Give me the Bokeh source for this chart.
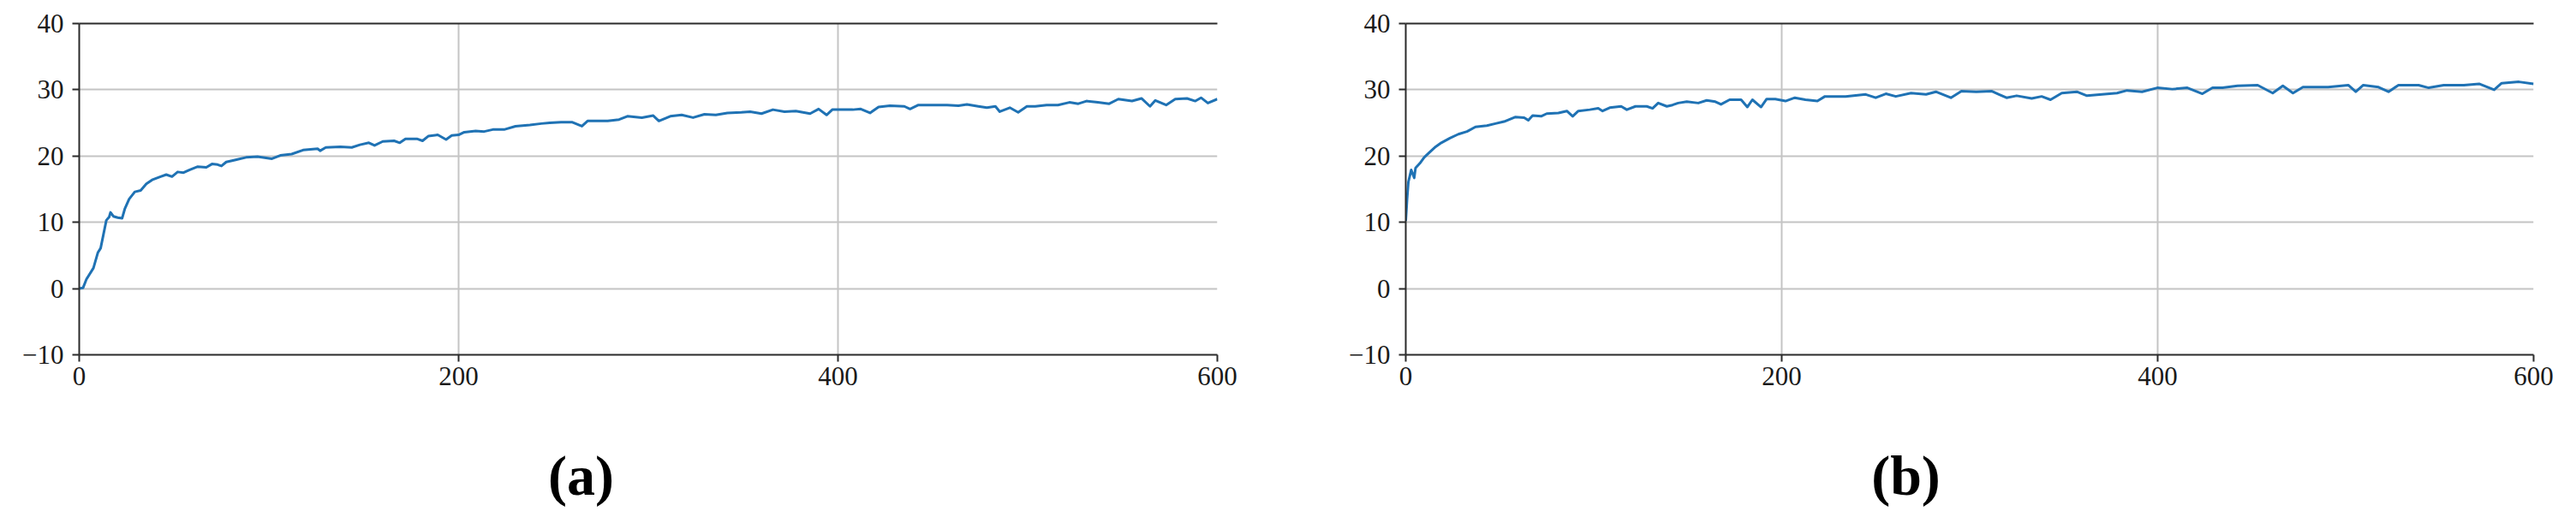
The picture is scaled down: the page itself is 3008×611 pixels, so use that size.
from bokeh.plotting import figure
from bokeh.layouts import row, column
from bokeh.models import Range1d, FixedTicker, LinearAxis, Label
from bokeh.embed import file_html
from bokeh.resources import INLINE

# ---------------- data ----------------
x_ticks = [0, 200, 400, 600]
y_ticks = [-10, 0, 10, 20, 30, 40]
y_tick_labels = {-10: "\u221210", 0: "0", 10: "10", 20: "20", 30: "30", 40: "40"}
panel_labels = ["(a)", "(b)"]

a_x = [0, 2, 3.8, 7.5, 9.8, 11.3, 12.8, 14.3, 15.8, 16.5, 18, 20.3, 22.6, 24, 26.3,
       29.3, 32.4, 35.4, 38.4, 42.9, 45.9, 48.9, 51.9, 55, 58, 62.5, 67, 70, 73, 75,
       77.5, 82, 88, 94, 101.6, 106, 112, 118, 125.7, 127, 130, 137.7, 143.7, 148,
       152.7, 155.7, 160, 166, 169, 172, 178, 181, 184, 189, 193.4, 196.4, 200,
       203, 209, 213.5, 218, 224, 230, 237.6, 243.6, 248, 254, 260, 265, 268, 274,
       278.6, 284.6, 289, 296.6, 302.6, 305.6, 311.6, 317.6, 323.6, 329.6, 335.6,
       341.7, 349, 353.7, 359.7, 365.7, 371.8, 377.8, 385.3, 389.8, 394, 397,
       401.8, 407.8, 412, 416.9, 421.4, 427.4, 435, 438, 442.4, 450, 457.5, 463.5,
       468, 474, 478.5, 483, 485.3, 490.6, 495, 499.6, 504, 510, 516, 522, 526.7,
       531, 537, 543, 547.8, 555, 560, 564.5, 567.3, 573, 577.8, 584, 588.4, 591.4,
       595, 600]
a_y = [0, 0.1, 1.4, 3.1, 5.4, 6.1, 8.2, 10.3, 10.8, 11.5, 10.9, 10.7, 10.6, 12, 13.5,
       14.6, 14.8, 15.8, 16.4, 16.9, 17.2, 16.9, 17.6, 17.5, 17.9, 18.4, 18.3, 18.8,
       18.7, 18.5, 19.1, 19.4, 19.8, 19.9, 19.6, 20.1, 20.3, 20.9, 21.1, 20.8, 21.3,
       21.4, 21.3, 21.7, 22.0, 21.6, 22.2, 22.3, 22.0, 22.6, 22.6, 22.3, 23.0, 23.2,
       22.5, 23.1, 23.2,
       23.6, 23.8, 23.7, 24.0, 24.0, 24.5, 24.7, 24.9, 25.0, 25.1, 25.1, 24.5, 25.3,
       25.3, 25.3, 25.5, 26.0, 25.8, 26.1, 25.3, 26.0, 26.2, 25.8, 26.3, 26.2, 26.5,
       26.6, 26.7, 26.4, 27.0, 26.7, 26.8, 26.4, 27.1, 26.2, 27.0,
       27.0, 27.0, 27.1, 26.5, 27.4, 27.6, 27.5, 27.1, 27.7, 27.7, 27.7, 27.6, 27.8,
       27.5, 27.3, 27.5, 26.7, 27.3, 26.6, 27.5, 27.5, 27.7, 27.7, 28.1, 27.9, 28.3,
       28.1, 27.9, 28.6, 28.3, 28.7, 27.5, 28.4, 27.7, 28.6, 28.7, 28.3, 28.8, 28.0,
       28.6]

b_x = [0, 0.7, 1.4, 2.9, 4.5, 5.2, 7.5, 9.8, 12.8, 15.9, 18.9, 23.5, 28, 32.6, 37.1,
       43.2, 47.7, 52.3, 58.4, 63, 65.2, 67.5, 72, 75, 81.2, 85.7, 88.8, 91.8, 97.9,
       102.4, 104.7, 108.5, 114.6, 117.6, 122.2, 128.2, 131.3, 134.3, 138.9, 141.9,
       144.9, 149.5, 155.6, 160.1, 164.7, 167.7, 172.3, 178.4, 181.7, 184.4, 189,
       192, 196.6, 202, 207, 212.6, 219, 223, 234, 244.7, 250, 255.4, 260.7, 268.8,
       276.8, 282, 290, 295.6, 303.5, 311.6, 315.6, 319.6, 325, 333, 338.3, 343,
       349, 357, 362.4, 370.4, 378.4, 383.7, 391.7, 399.8, 407.8, 415.8, 423.8,
       429.2, 434.5, 442.5, 453.2, 461.2, 466.6, 472, 477.3, 490.7, 501.4, 505.4,
       509.4, 517.5, 522.8, 528.1, 538.8, 544.2, 552.2, 562.9, 571, 579, 583,
       592.2, 600]
b_y = [10.2, 13.5, 16.1, 17.9, 16.7, 18.2, 18.9, 19.8, 20.6, 21.4, 22.0, 22.7, 23.3,
       23.7, 24.4, 24.6, 24.9, 25.2, 25.9, 25.8, 25.4, 26.1, 26.0, 26.4, 26.5, 26.8,
       26.0, 26.8, 27.0, 27.2, 26.8, 27.3, 27.5, 27.0, 27.5, 27.5, 27.2, 28.0, 27.5,
       27.7, 28.0, 28.2, 28.0, 28.4, 28.2, 27.8, 28.5, 28.5, 27.4, 28.5, 27.4, 28.6,
       28.6, 28.3, 28.8, 28.5, 28.3, 29.0, 29.0, 29.3, 28.8, 29.4, 29.0, 29.5, 29.3,
       29.7, 28.8, 29.8, 29.7, 29.8, 29.3, 28.8, 29.1, 28.7, 29.0, 28.5, 29.5, 29.7,
       29.1, 29.3, 29.5, 29.9, 29.7, 30.3, 30.1, 30.3, 29.4, 30.3, 30.3, 30.6, 30.7,
       29.5, 30.6, 29.5, 30.4, 30.4, 30.7, 29.7, 30.7, 30.4, 29.7, 30.7, 30.7, 30.3,
       30.7, 30.7, 30.9, 30.0, 31.0, 31.2, 30.9]

TICK_FONT = "Liberation Serif"
LINE_COLOR = "#1f72b4"
GRID_COLOR = "#c4c4c4"
SPINE_COLOR = "#2b2b2b"


def make_panel(xs, ys, width, height, bl, br, bt, bb):
    p = figure(width=width, height=height, output_backend="svg", toolbar_location=None,
               x_range=Range1d(0, 600), y_range=Range1d(-10, 40),
               min_border_left=bl, min_border_right=br, min_border_top=bt,
               min_border_bottom=bb, background_fill_color="white",
               border_fill_color="white")
    p.outline_line_color = None
    for ax in (p.xaxis[0], p.yaxis[0]):
        ax.axis_line_color = SPINE_COLOR
        ax.axis_line_width = 2
        ax.major_tick_line_color = SPINE_COLOR
        ax.major_tick_line_width = 2
        ax.major_tick_out = 8
        ax.major_tick_in = 0
        ax.minor_tick_line_color = None
        ax.major_label_text_font = TICK_FONT
        ax.major_label_text_font_size = "31px"
        ax.major_label_text_color = "#1a1a1a"
    p.xaxis[0].ticker = FixedTicker(ticks=x_ticks)
    p.yaxis[0].ticker = FixedTicker(ticks=y_ticks)
    p.yaxis[0].major_label_overrides = y_tick_labels
    p.xaxis[0].major_label_standoff = 6
    p.yaxis[0].major_label_standoff = 10

    top = LinearAxis(ticker=FixedTicker(ticks=[]), axis_line_color=SPINE_COLOR,
                     axis_line_width=2, major_tick_line_color=None,
                     minor_tick_line_color=None, major_label_text_font_size="0px")
    p.add_layout(top, "above")

    for g in (p.xgrid[0], p.ygrid[0]):
        g.grid_line_color = GRID_COLOR
        g.grid_line_width = 2
    p.xgrid[0].ticker = FixedTicker(ticks=x_ticks)
    p.ygrid[0].ticker = FixedTicker(ticks=y_ticks)

    p.line(xs, ys, line_color=LINE_COLOR, line_width=3, line_join="round")
    return p


def make_caption(text, width, height, cx, baseline):
    c = figure(width=width, height=height, output_backend="svg", toolbar_location=None,
               x_range=Range1d(0, 1), y_range=Range1d(0, 1),
               x_axis_type=None, y_axis_type=None, min_border=0,
               background_fill_color="white", border_fill_color="white")
    c.outline_line_color = None
    c.grid.visible = False
    c.add_layout(Label(x=cx, y=baseline, x_units="screen", y_units="screen",
                       text=text, text_font="Liberation Serif", text_font_style="bold",
                       text_font_size="66px", text_align="center",
                       text_baseline="alphabetic", text_color="black"))
    return c


p1 = make_panel(a_x, a_y, 1500, 473, 92, 79, 27, 55)
p2 = make_panel(b_x, b_y, 1492, 473, 141, 34, 27, 59)
c1 = make_caption(panel_labels[0], 1500, 122, 678, 40)
c2 = make_caption(panel_labels[1], 1492, 122, 725, 40)

layout = column(row(p1, p2), row(c1, c2))
open("out.html", "w").write(file_html(layout, INLINE))
